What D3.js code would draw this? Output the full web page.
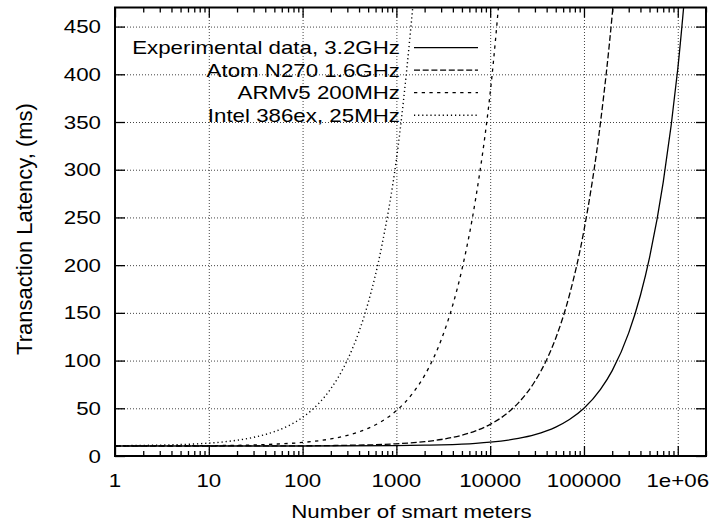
<!DOCTYPE html>
<meta charset="utf-8">
<script src="https://d3js.org/d3.v7.min.js"></script>
<style>
  body { margin: 0; background: #fff; }
  svg { font-family: "Liberation Sans", Arial, Helvetica, sans-serif; }
  .grid line { stroke: #444; stroke-dasharray: 1,2; stroke-width: 1; }
  .grid .domain { display: none; }
  .ticks line { stroke: #000; stroke-width: 1.3; }
  .ticks .domain { display: none; }
</style>
<div id="chart"></div>
<script>
  // Data (latency in ms vs number of meters)
  var seriesNames = ["Experimental data, 3.2GHz", "Atom N270 1.6GHz", "ARMv5 200MHz", "Intel 386ex, 25MHz"];

  var expX = [1, 10, 100, 1000, 2000, 3000, 5000, 7000, 10000, 20000, 30000, 50000, 70000, 100000, 150000, 200000, 300000, 400000, 500000, 700000, 1000000, 1500000];
  var expY = [10.5, 10.5, 10.5, 10.9, 11.3, 11.7, 12.5, 13.3, 14.5, 18.4, 22.4, 30.3, 38.2, 50, 69.8, 89.5, 129, 168.5, 208, 287, 405.5, 603];

  var atomX = [1, 10, 100, 300, 500, 1000, 2000, 3000, 5000, 7000, 10000, 15000, 20000, 30000, 40000, 50000, 70000, 100000, 150000, 200000, 300000];
  var atomY = [10.5, 10.5, 10.7, 11.2, 11.6, 12.8, 15.0, 17.3, 21.8, 26.3, 33.1, 44.4, 55.7, 78.3, 100.9, 123.5, 168.7, 236.5, 349.5, 462.5, 688.5];

  var armX = [1, 2, 5, 10, 20, 50, 100, 200, 300, 500, 700, 1000, 1500, 2000, 3000, 4000, 5000, 7000, 10000, 20000];
  var armY = [10.5, 10.6, 10.7, 10.9, 11.2, 12.4, 14.2, 17.9, 21.6, 29, 36.4, 47.5, 66, 84.5, 121.5, 158.5, 195.5, 269.5, 380.5, 750.5];

  var intelX = [1, 2, 3, 5, 7, 10, 15, 20, 30, 40, 50, 70, 100, 150, 200, 300, 400, 500, 700, 1000, 2000];
  var intelY = [10.8, 11.1, 11.4, 12, 12.6, 13.5, 15, 16.5, 19.5, 22.5, 25.5, 31.5, 40.5, 55.5, 70.5, 100.5, 130.5, 160.5, 220.5, 310.5, 610.5];

  var xTickValues = [1, 10, 100, 1000, 10000, 100000, 1000000];
  var xTickLabels = ["1", "10", "100", "1000", "10000", "100000", "1e+06"];
  var yTickValues = [0, 50, 100, 150, 200, 250, 300, 350, 400, 450];

  var dashes = [null, "6,2.7", "3.3,4.4", "1.2,2.9"];

  var W = 717, H = 527;
  var pLeft = 115, pRight = 706, pTop = 7.5, pBottom = 456;
  var sx = 1.24; // text is slightly wider than tall in the original

  var svg = d3.select("#chart").append("svg")
      .attr("width", W).attr("height", H);

  var x = d3.scaleLog().domain([1, 2000000]).range([pLeft, pRight]);
  var y = d3.scaleLinear().domain([0, 470]).range([pBottom, pTop]);

  // minor ticks 2..9 each decade
  var minor = [];
  for (var e = 0; e <= 6; e++) {
    for (var k = 2; k <= 9; k++) {
      var v = k * Math.pow(10, e);
      if (v <= 2000000) minor.push(v);
    }
  }

  // grid
  svg.append("g").attr("class", "grid")
     .attr("transform", "translate(0," + pBottom + ")")
     .call(d3.axisBottom(x).tickValues(xTickValues.slice(1)).tickFormat("").tickSize(-(pBottom - pTop)));
  svg.append("g").attr("class", "grid")
     .attr("transform", "translate(" + pLeft + ",0)")
     .call(d3.axisLeft(y).tickValues(yTickValues.slice(1)).tickFormat("").tickSize(-(pRight - pLeft)));

  // curves
  svg.append("clipPath").attr("id", "plot")
     .append("rect").attr("x", pLeft).attr("y", pTop)
     .attr("width", pRight - pLeft).attr("height", pBottom - pTop);

  var line = d3.line()
      .x(function (d) { return x(d[0]); })
      .y(function (d) { return y(d[1]); })
      .curve(d3.curveMonotoneX);

  var allX = [expX, atomX, armX, intelX];
  var allY = [expY, atomY, armY, intelY];

  var curves = svg.append("g").attr("clip-path", "url(#plot)");
  allX.forEach(function (xs, i) {
    var pts = xs.map(function (v, j) { return [v, allY[i][j]]; });
    curves.append("path")
      .attr("d", line(pts))
      .attr("fill", "none")
      .attr("stroke", "#000")
      .attr("stroke-width", i == 3 ? 1.4 : 1.3)
      .attr("stroke-dasharray", dashes[i]);
  });

  // ticks (inward), major and minor, on all four sides
  svg.append("g").attr("class", "ticks")
     .attr("transform", "translate(0," + pBottom + ")")
     .call(d3.axisBottom(x).tickValues(xTickValues).tickFormat("").tickSize(-10));
  svg.append("g").attr("class", "ticks")
     .attr("transform", "translate(0," + pBottom + ")")
     .call(d3.axisBottom(x).tickValues(minor).tickFormat("").tickSize(-5));
  svg.append("g").attr("class", "ticks")
     .attr("transform", "translate(0," + pTop + ")")
     .call(d3.axisTop(x).tickValues(xTickValues).tickFormat("").tickSize(-10));
  svg.append("g").attr("class", "ticks")
     .attr("transform", "translate(0," + pTop + ")")
     .call(d3.axisTop(x).tickValues(minor).tickFormat("").tickSize(-5));
  svg.append("g").attr("class", "ticks")
     .attr("transform", "translate(" + pLeft + ",0)")
     .call(d3.axisLeft(y).tickValues(yTickValues).tickFormat("").tickSize(-10));
  svg.append("g").attr("class", "ticks")
     .attr("transform", "translate(" + pRight + ",0)")
     .call(d3.axisRight(y).tickValues(yTickValues).tickFormat("").tickSize(-10));

  // border
  svg.append("rect")
     .attr("x", pLeft).attr("y", pTop)
     .attr("width", pRight - pLeft).attr("height", pBottom - pTop)
     .attr("fill", "none").attr("stroke", "#000").attr("stroke-width", 2);

  // tick labels
  function label(tx, ty, str, anchor) {
    svg.append("text")
       .attr("transform", "translate(" + tx + "," + ty + ") scale(" + sx + ",1)")
       .attr("text-anchor", anchor)
       .attr("font-size", 18)
       .attr("fill", "#000")
       .text(str);
  }
  xTickValues.forEach(function (v, i) {
    label(x(v), 487, xTickLabels[i], "middle");
  });
  yTickValues.forEach(function (v) {
    label(101, y(v) + 6.5, v, "end");
  });

  // axis titles
  label((pLeft + pRight) / 2 + 1, 517.5, "Number of smart meters", "middle");
  svg.append("text")
     .attr("transform", "translate(31.5," + 229 + ") rotate(-90)")
     .attr("text-anchor", "middle")
     .attr("font-size", 22)
     .text("Transaction Latency, (ms)");

  // legend
  var legY = [47.7, 70.2, 92.7, 115.2];
  seriesNames.forEach(function (name, i) {
    label(400, legY[i] + 6.5, name, "end");
    svg.append("line")
       .attr("x1", 414).attr("x2", 478)
       .attr("y1", legY[i]).attr("y2", legY[i])
       .attr("stroke", "#000")
       .attr("stroke-width", i == 3 ? 1.4 : 1.3)
       .attr("stroke-dasharray", dashes[i]);
  });
</script>
